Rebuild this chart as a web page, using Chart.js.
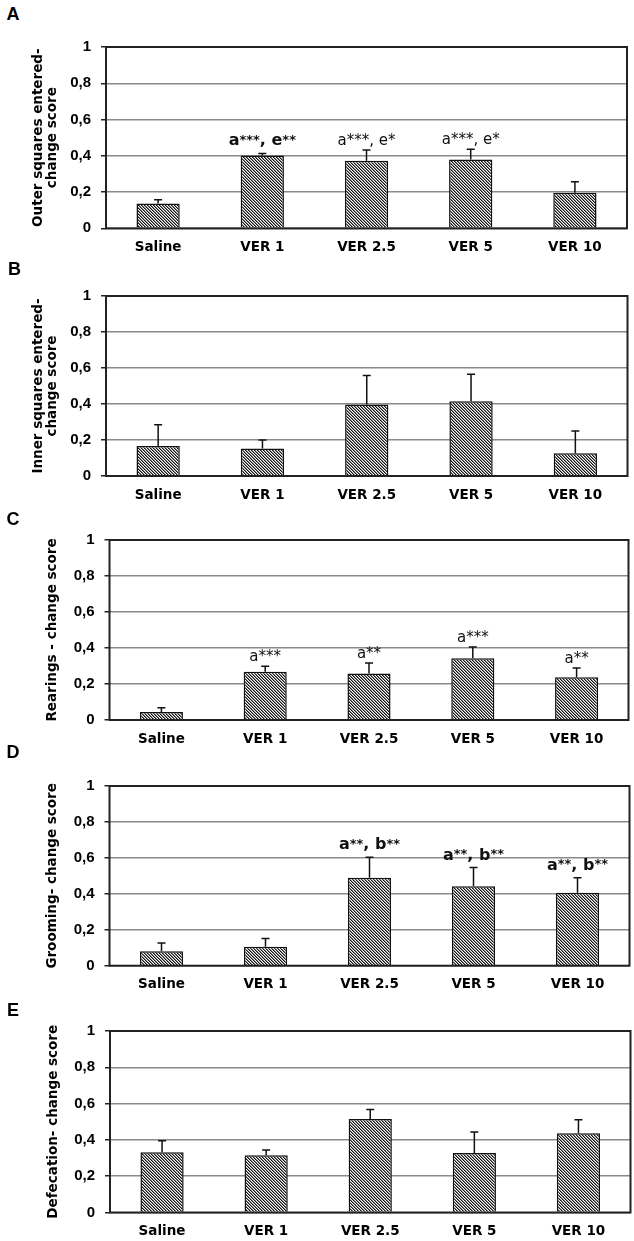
<!DOCTYPE html>
<html><head><meta charset="utf-8">
<script src="https://cdn.jsdelivr.net/npm/chart.js@4.4.0/dist/chart.umd.min.js"></script>
<style>
html,body{margin:0;padding:0;background:#fff;}
body{width:634px;height:1241px;position:relative;overflow:hidden;}
canvas{position:absolute;left:0;}
.letter{position:absolute;font:bold 18px "Liberation Sans",Arial,sans-serif;line-height:18px;color:#000;}
</style></head><body>
<script>
// ---------- data ----------
const categories = ["Saline", "VER 1", "VER 2.5", "VER 5", "VER 10"];
const yTickValues = [0, 0.2, 0.4, 0.6, 0.8, 1];
const yTickLabels = ["0", "0,2", "0,4", "0,6", "0,8", "1"];
const panelLetters = ["A", "B", "C", "D", "E"];

const outerMeans = [0.137, 0.402, 0.373, 0.379, 0.196];
const outerSem   = [0.020, 0.011, 0.059, 0.057, 0.061];
const outerNotes = ["", "a{***}, e{**}", "a***, e*", "a***, e*", ""];
const outerTitle = ["Outer squares entered-", "change score"];

const innerMeans = [0.166, 0.153, 0.397, 0.415, 0.127];
const innerSem   = [0.119, 0.047, 0.161, 0.150, 0.123];
const innerNotes = ["", "", "", "", ""];
const innerTitle = ["Inner squares entered-", "change score"];

const rearMeans = [0.045, 0.268, 0.259, 0.343, 0.237];
const rearSem   = [0.023, 0.030, 0.057, 0.062, 0.052];
const rearNotes = ["", "a***", "a**", "a***", "a**"];
const rearTitle = "Rearings - change score";

const groomMeans = [0.080, 0.106, 0.490, 0.442, 0.406];
const groomSem   = [0.047, 0.046, 0.113, 0.104, 0.084];
const groomNotes = ["", "", "a{**}, b{**}", "a{**}, b{**}", "a{**}, b{**}"];
const groomTitle = "Grooming- change score";

const defMeans = [0.332, 0.315, 0.515, 0.328, 0.436];
const defSem   = [0.064, 0.030, 0.052, 0.116, 0.075];
const defNotes = ["", "", "", "", ""];
const defTitle = "Defecation- change score";

const panels = [
  {means: outerMeans, sem: outerSem, notes: outerNotes, title: outerTitle},
  {means: innerMeans, sem: innerSem, notes: innerNotes, title: innerTitle},
  {means: rearMeans,  sem: rearSem,  notes: rearNotes,  title: rearTitle},
  {means: groomMeans, sem: groomSem, notes: groomNotes, title: groomTitle},
  {means: defMeans,   sem: defSem,   notes: defNotes,   title: defTitle}
];

// ---------- layout (pixels) ----------
const geometry = [
  {top: 40.7,   bottom: 228.3,  left: 106,   right: 627,   titleX: 38.5},
  {top: 289,    bottom: 476,    left: 106,   right: 627.5, titleX: 38.5},
  {top: 533.3,  bottom: 720,    left: 109.5, right: 628.5, titleX: 52.5},
  {top: 779.3,  bottom: 965.7,  left: 109.5, right: 629.5, titleX: 52.5},
  {top: 1024.8, bottom: 1212.5, left: 110,   right: 630.5, titleX: 53}
];
const letterPos = [[6.5, 5], [8, 260], [6.5, 510], [6.5, 742.5], [7, 1001]];

// ---------- styles ----------
const TITLE_FONT = {family: '"DejaVu Sans", sans-serif', weight: 'bold', size: 13.5, lineHeight: 1.05};
const XTICK_FONT = {family: '"DejaVu Sans", sans-serif', weight: 'bold', size: 13.5, lineHeight: 1.2};
const YTICK_FONT = {family: '"Liberation Sans", Arial, sans-serif', weight: 'bold', size: 15, lineHeight: 1.2};

function makeHatch() {
  const c = document.createElement('canvas');
  c.width = 3; c.height = 3;
  const x = c.getContext('2d');
  const img = x.createImageData(3, 3);
  for (let j = 0; j < 3; j++) for (let i = 0; i < 3; i++) {
    const d = ((i - j) % 3 + 3) % 3;
    const v = d === 0 ? 20 : (d === 1 ? 130 : 250);
    const k = (j * 3 + i) * 4;
    img.data[k] = v; img.data[k + 1] = v; img.data[k + 2] = v; img.data[k + 3] = 255;
  }
  x.putImageData(img, 0, 0);
  return x.createPattern(c, 'repeat');
}

function drawNote(ctx, text, cx, baseY) {
  const bold = text.indexOf('{') >= 0;
  const baseFont = bold ? 'bold 16px "DejaVu Sans"' : 'normal 15px "DejaVu Sans"';
  const supFont = 'bold 13px "DejaVu Sans"';
  const parts = [];
  const re = /\{([^}]*)\}|([^{]+)/g;
  let m;
  while ((m = re.exec(text)) !== null) {
    if (m[1] !== undefined) parts.push({t: m[1], sup: true});
    else parts.push({t: m[2], sup: false});
  }
  let total = 0;
  parts.forEach(p => { ctx.font = p.sup ? supFont : baseFont; p.w = ctx.measureText(p.t).width; total += p.w; });
  let x = cx - total / 2;
  ctx.fillStyle = '#111';
  ctx.textAlign = 'left';
  ctx.textBaseline = 'alphabetic';
  parts.forEach(p => {
    ctx.font = p.sup ? supFont : baseFont;
    ctx.fillText(p.t, x, p.sup ? baseY - 1.5 : baseY);
    x += p.w;
  });
}

const decorPlugin = {
  id: 'decor',
  afterDatasetsDraw(chart, args, opts) {
    const ctx = chart.ctx, ca = chart.chartArea, ys = chart.scales.y;
    const meta = chart.getDatasetMeta(0);
    const vals = chart.data.datasets[0].data;
    ctx.save();
    ctx.strokeStyle = '#111';
    ctx.lineWidth = 1.5;
    const errTops = [];
    meta.data.forEach((bar, i) => {
      const yTop = ys.getPixelForValue(vals[i]);
      const yErr = ys.getPixelForValue(vals[i] + opts.sem[i]);
      errTops.push(yErr);
      ctx.beginPath();
      ctx.moveTo(bar.x, yTop); ctx.lineTo(bar.x, yErr);
      ctx.moveTo(bar.x - 4, yErr); ctx.lineTo(bar.x + 4, yErr);
      ctx.stroke();
    });
    ctx.strokeStyle = '#222';
    ctx.lineWidth = 2;
    ctx.strokeRect(ca.left, ca.top, ca.right - ca.left, ca.bottom - ca.top);
    meta.data.forEach((bar, i) => {
      const t = opts.notes[i];
      if (!t) return;
      const gap = t.indexOf('{') >= 0 ? 8 : 5;
      drawNote(ctx, t, bar.x, errTops[i] - gap);
    });
    ctx.restore();
  }
};

const hatch = makeHatch();

panels.forEach((p, idx) => {
  const g = geometry[idx];
  const canvasTop = Math.floor(g.top) - 12;
  const padTop = g.top - canvasTop;
  const H = Math.ceil(g.bottom) + 40 - canvasTop;
  const xAxisH = H - (g.bottom - canvasTop);
  const cv = document.createElement('canvas');
  cv.width = 634; cv.height = H;
  cv.style.top = canvasTop + 'px';
  cv.style.width = '634px'; cv.style.height = H + 'px';
  document.body.appendChild(cv);

  const lh = TITLE_FONT.size * TITLE_FONT.lineHeight;

  new Chart(cv.getContext('2d'), {
    type: 'bar',
    data: {
      labels: categories,
      datasets: [{
        data: p.means,
        backgroundColor: hatch,
        borderColor: '#111',
        borderWidth: 1.5,
        categoryPercentage: 1,
        barPercentage: 0.415
      }]
    },
    options: {
      responsive: false,
      animation: false,
      devicePixelRatio: 1,
      layout: {padding: {top: padTop, right: 634 - g.right, left: 0, bottom: 0}},
      plugins: {
        legend: {display: false},
        tooltip: {enabled: false},
        decor: {sem: p.sem, notes: p.notes}
      },
      scales: {
        x: {
          grid: {display: false, drawTicks: false},
          border: {display: false},
          ticks: {color: '#000', font: XTICK_FONT, padding: 11, maxRotation: 0, autoSkip: false},
          afterFit: s => { s.height = xAxisH; }
        },
        y: {
          min: 0, max: 1,
          afterBuildTicks: s => { s.ticks = yTickValues.map(v => ({value: v})); },
          ticks: {color: '#000', font: YTICK_FONT, padding: 10,
                  callback: (v, i) => yTickLabels[i]},
          grid: {color: '#8a8a8a', lineWidth: 1.5, tickColor: '#222', tickLength: 5, drawTicks: true},
          border: {display: false},
          title: {display: true, text: p.title, color: '#000', font: TITLE_FONT,
                  padding: {top: g.titleX - lh / 2, bottom: 0}},
          afterFit: s => { s.width = g.left; }
        }
      }
    },
    plugins: [decorPlugin]
  });

  const d = document.createElement('div');
  d.className = 'letter';
  d.textContent = panelLetters[idx];
  d.style.left = letterPos[idx][0] + 'px';
  d.style.top = letterPos[idx][1] + 'px';
  document.body.appendChild(d);
});
</script>
</body></html>
